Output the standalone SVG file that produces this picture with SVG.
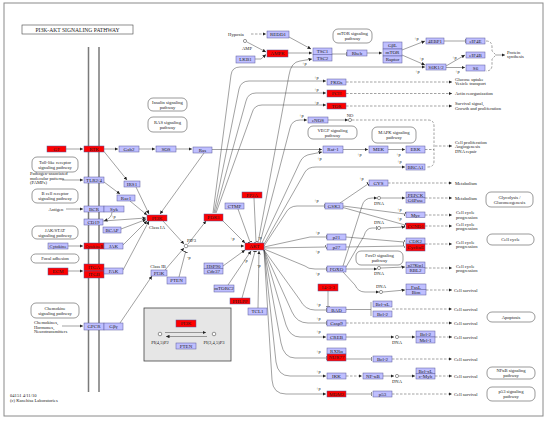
<svg xmlns="http://www.w3.org/2000/svg" width="550" height="423" viewBox="0 0 550 423">
<defs>
<style>
.n{fill:#bfbfff;stroke:#5a5a9a;stroke-width:.5}
.rn{fill:#ff0000;stroke:#5a5a9a;stroke-width:.5}
.pw{fill:#fff;stroke:#555;stroke-width:.6}
text{font-family:"Liberation Serif","DejaVu Serif",serif;fill:#222}
.l{font-size:5px;text-anchor:middle}
.t{font-size:4.6px}
.tm{font-size:4.6px;text-anchor:middle}
.p{font-size:4.3px}
.c{fill:none;stroke:#444;stroke-width:.5}
.d{fill:none;stroke:#444;stroke-width:.5;stroke-dasharray:2.5,1.5}
.ar{marker-end:url(#a)}
.br{marker-end:url(#b)}
.o{fill:#fff;stroke:#333;stroke-width:.5}
</style>
<marker id="a" viewBox="0 0 6 6" refX="6" refY="3" markerWidth="3.5" markerHeight="3.5" markerUnits="userSpaceOnUse" orient="auto"><path d="M0,0L6,3L0,6z" fill="#222"/></marker>
<marker id="b" viewBox="0 0 2 8" refX="1" refY="4" markerWidth="1" markerHeight="5" markerUnits="userSpaceOnUse" orient="auto"><path d="M1,0V8" stroke="#222" stroke-width="2"/></marker>
</defs>
<rect width="550" height="423" fill="#fff"/>
<rect x="4" y="3" width="539" height="413" fill="none" stroke="#8a8a8a" stroke-width="1"/>
<g id="title"><rect x="22" y="25" width="111" height="9" fill="#fff" stroke="#444" stroke-width=".6"/><text x="77.5" y="31.6" style="font-size:5.6px;text-anchor:middle">PI3K-AKT SIGNALING PATHWAY</text></g>
<g id="membrane" stroke="#7a7a7a" stroke-width="1.5"><path d="M88.5,47V392M99,47V392"/></g>

<g id="connectors">
<path class="d ar" d="M251,34H266"/>
<path class="c ar" d="M247,42L266,52"/>
<path class="c ar" d="M255,59H261L266,54.5"/>
<path class="c ar" d="M289,37L311,49"/>
<path class="c ar" d="M288,53H312"/>
<path class="c br" d="M332,54H346"/>
<path class="c ar" d="M367,53H382"/>
<path class="c ar" d="M402,50L425,41"/>
<path class="c ar" d="M402,55L425,65"/>
<path class="c br" d="M444,41H465"/>
<path class="c ar" d="M446,66L465,55"/>
<path class="c ar" d="M446,67.5H465"/>
<path class="d" d="M486,41Q492,41 492,47V51L496,55L492,59V65Q492,71 486,71"/>
<path class="c ar" d="M496,55H505"/>
<path class="c ar" d="M213,213L231,75Q232,67 240,67H425"/>
<path class="c ar" d="M214,213L239,89Q241,81 249,81H326"/>
<path class="c ar" d="M215,213L246,101Q248,93 256,93H326"/>
<path class="c ar" d="M216,213L252,113Q254,105 262,105H326"/>
<path class="c ar" d="M258,243L289,75Q291,62 300,61L312,59"/>
<path class="c ar" d="M260,243L290,128Q292,120 300,120H307"/>
<path class="c ar" d="M262,243L300,162Q303,155 312,154L322,152"/>
<path class="c ar" d="M264,244L305,172Q308,167 316,167H405"/>
<path class="c ar" d="M212,149.5H322"/>
<path class="c ar" d="M343,149.5H368"/>
<path class="c ar" d="M388,149.5H405"/>
<path class="c ar" d="M328,120H348"/>
<path class="d" d="M352,120H428Q434,120 434,126V161Q434,167 428,167H426M425,149.5H434"/>
<path class="d ar" d="M435,146H452"/>
<path class="d ar" d="M346,82H452"/>
<path class="d ar" d="M346,93.5H452"/>
<path class="d ar" d="M346,106H452"/>
<path class="c ar" d="M66,149H83"/>
<path class="c ar" d="M104,149H118"/>
<path class="c ar" d="M139,149H155"/>
<path class="c ar" d="M176,149H192"/>
<path class="c ar" d="M104,151.5L127,180"/>
<path class="c ar" d="M62,180H83"/>
<path class="c ar" d="M104,182L120,194"/>
<path class="c ar" d="M66,209H83"/>
<path class="c ar" d="M112,212Q112,218 104,221"/>
<path class="c ar" d="M68,246H83"/>
<path class="c ar" d="M68,271H83"/>
<path class="c ar" d="M62,326H83"/>
<path class="c ar" d="M204,153L160,214"/>
<path class="c ar" d="M136,187L149,214"/>
<path class="c ar" d="M130,201L147,215"/>
<path class="c ar" d="M103,221L146,218"/>
<path class="c ar" d="M121,229L146,219.5"/>
<path class="c ar" d="M123,245L147,221"/>
<path class="c ar" d="M123,270L149,221"/>
<path class="c ar" d="M120,323L152,276"/>
<path class="c ar" d="M163,221L184,244"/>
<path class="c ar" d="M165,270L184,248"/>
<path class="c br" d="M179,277L185.5,252"/>
<path class="c ar" d="M188,244L206,221"/>
<path class="c ar" d="M188,246H244"/>
<path class="c ar" d="M223,221L245,243"/>
<path class="c br" d="M238,209L250,242"/>
<path class="c br" d="M254,198L256,242"/>
<path class="c ar" d="M223,266L245,250"/>
<path class="c ar" d="M228,285L251,251"/>
<path class="c br" d="M242,298L255,251.5"/>
<path class="c ar" d="M258,308L259,251"/>
<path class="c br" d="M264,246L285,214Q289,206 297,206H324"/>
<path class="c br" d="M264,247L310,237H326"/>
<path class="c br" d="M264,248L326,247"/>
<path class="c br" d="M264,249L305,266Q308,269 315,269H326"/>
<path class="c br" d="M264,250L300,300Q305,310 315,310H326"/>
<path class="c br" d="M264,250L292,312Q297,323 308,323H326"/>
<path class="c ar" d="M264,250L286,325Q290,337 300,337H326"/>
<path class="c br" d="M264,250L281,343Q284,358 295,358H326"/>
<path class="c ar" d="M264,250L276,362Q278,376 290,376H326"/>
<path class="c ar" d="M264,250L272,380Q273,394 286,394H326"/>
<path class="c ar" d="M343,266L362,206Q364,198 372,198H377"/>
<path class="c br" d="M346,267L364,236Q366,228 372,228H376"/>
<path class="c ar" d="M381,198H405"/>
<path class="c ar" d="M381,228L405,227"/>
<path class="c ar" d="M346,269H377"/>
<path class="c ar" d="M381,268L405,267"/>
<path class="c ar" d="M343,272L355,285Q358,292 365,292H379"/>
<path class="c ar" d="M383,292L405,290"/>
<path class="c br" d="M340,203L368,184"/>
<path class="c br" d="M343,206L405,214"/>
<path class="c br" d="M343,207.5L405,225"/>
<path class="c br" d="M346,237L404,242"/>
<path class="c br" d="M346,247L404,246"/>
<path class="d ar" d="M388,183H452"/>
<path class="d ar" d="M425,198H452"/>
<path class="d ar" d="M425,215H452"/>
<path class="d ar" d="M425,226H452"/>
<path class="d ar" d="M425,244H452"/>
<path class="d ar" d="M425,268H452"/>
<path class="c br" d="M328,291V306"/>
<path class="c" d="M346,309.5H371M371,302V316"/>
<path class="d ar" d="M392,309H452"/>
<path class="d ar" d="M346,323H452"/>
<path class="c ar" d="M346,337H394"/>
<path class="c ar" d="M399,337H415"/>
<path class="d ar" d="M435,337H452"/>
<path class="c br" d="M346,359H371"/>
<path class="d ar" d="M392,359H452"/>
<path class="d ar" d="M346,376H362"/>
<path class="c ar" d="M383,376H394"/>
<path class="c ar" d="M399,376H415"/>
<path class="d ar" d="M435,376H452"/>
<path class="c br" d="M346,394H371"/>
<path class="d ar" d="M392,394H452"/>
<path class="d ar" d="M426,290H452"/>
</g>

<g id="legend"><rect x="144" y="308" width="87" height="53" fill="#e6e6e6" stroke="#444" stroke-width=".8"/>
<path class="c ar" d="M165,332.5H206"/><path class="c ar" d="M207,336.5H166"/>
<circle class="o" cx="160" cy="334" r="1.8"/><circle class="o" cx="214" cy="334" r="1.8"/>
<text class="tm" x="160" y="344">PI(4,5)P2</text><text class="tm" x="214" y="344">PI(3,4,5)P3</text>
<g id="lg-PI3K"><rect class="rn" x="176" y="320" width="20" height="7"/><text class="l" x="186" y="325.2">PI3K</text></g>
<g id="lg-PTEN"><rect class="n" x="176" y="343" width="20" height="6"/><text class="l" x="186" y="347.8">PTEN</text></g>
</g>

<g id="circles">
<circle class="o" cx="245" cy="41" r="1.6"/>
<circle class="o" cx="350" cy="120" r="1.6"/>
<circle class="o" cx="186" cy="246" r="1.8"/>
<circle class="o" cx="379" cy="198" r="1.6"/>
<circle class="o" cx="379" cy="228" r="1.6"/>
<circle class="o" cx="379" cy="268" r="1.6"/>
<circle class="o" cx="381" cy="292" r="1.6"/>
<circle class="o" cx="397" cy="337" r="1.6"/>
<circle class="o" cx="397" cy="376" r="1.6"/>
</g>

<g id="nodes">
<g id="REDD1"><rect class="n" x="267" y="31" width="22" height="7"/><text class="l" x="278" y="36.2">REDD1</text></g>
<g id="AMPK"><rect class="rn" x="267" y="50" width="21" height="7"/><text class="l" x="277.5" y="55.2">AMPK</text></g>
<g id="LKB1"><rect class="n" x="236" y="56" width="19" height="7"/><text class="l" x="245.5" y="61.2">LKB1</text></g>
<g id="TSC1"><rect class="n" x="313" y="48" width="19" height="6.5"/><text class="l" x="322.5" y="53">TSC1</text></g>
<g id="TSC2"><rect class="n" x="313" y="54.5" width="19" height="6.5"/><text class="l" x="322.5" y="59.5">TSC2</text></g>
<g id="Rheb"><rect class="n" x="347" y="50" width="20" height="6"/><text class="l" x="357" y="54.8">Rheb</text></g>
<g id="GbL"><rect class="n" x="383" y="42" width="19" height="7"/><text class="l" x="392.5" y="47.2">GβL</text></g>
<g id="mTOR"><rect class="n" x="383" y="49" width="19" height="7"/><text class="l" x="392.5" y="54.2">mTOR</text></g>
<g id="Raptor"><rect class="n" x="383" y="56" width="19" height="7"/><text class="l" x="392.5" y="61.2">Raptor</text></g>
<g id="4EBP1"><rect class="n" x="426" y="38" width="18" height="6"/><text class="l" x="435" y="42.8">4EBP1</text></g>
<g id="eIF4E"><rect class="n" x="466" y="38" width="19" height="6"/><text class="l" x="475.5" y="42.8">eIF4E</text></g>
<g id="eIF4B"><rect class="n" x="466" y="52" width="19" height="6"/><text class="l" x="475.5" y="56.8">eIF4B</text></g>
<g id="S6"><rect class="n" x="466" y="65" width="19" height="6"/><text class="l" x="475.5" y="69.8">S6</text></g>
<g id="S6K"><rect class="n" x="426" y="64" width="20" height="6"/><text class="l" x="436" y="68.8">S6K1/2</text></g>
<g id="FKOs"><rect class="n" x="327" y="79" width="19" height="6"/><text class="l" x="336.5" y="83.8">FKOs</text></g>
<g id="PCH"><rect class="rn" x="327" y="90" width="19" height="7"/><text class="l" x="336.5" y="95.2">PCH</text></g>
<g id="TOR"><rect class="rn" x="327" y="103" width="19" height="6"/><text class="l" x="336.5" y="107.8">TOR</text></g>
<g id="eNOS"><rect class="n" x="308" y="117" width="20" height="6"/><text class="l" x="318" y="121.8">eNOS</text></g>
<g id="Raf1"><rect class="n" x="323" y="146" width="20" height="7"/><text class="l" x="333" y="151.2">Raf-1</text></g>
<g id="MEK"><rect class="n" x="369" y="146" width="19" height="7"/><text class="l" x="378.5" y="151.2">MEK</text></g>
<g id="ERK"><rect class="n" x="406" y="146" width="19" height="7"/><text class="l" x="415.5" y="151.2">ERK</text></g>
<g id="BRCA1"><rect class="n" x="406" y="164" width="19" height="6"/><text class="l" x="415.5" y="168.8">BRCA1</text></g>
<g id="GF"><rect class="rn" x="47" y="146" width="19" height="6"/><text class="l" x="56.5" y="150.8">GF</text></g>
<g id="RTK"><rect class="rn" x="84" y="146" width="20" height="6"/><text class="l" x="94" y="150.8">RTK</text></g>
<g id="Gab2"><rect class="n" x="119" y="146" width="20" height="6"/><text class="l" x="129" y="150.8">Gab2</text></g>
<g id="SOS"><rect class="n" x="156" y="146" width="20" height="6"/><text class="l" x="166" y="150.8">SOS</text></g>
<g id="Ras"><rect class="n" x="193" y="147" width="19" height="6"/><text class="l" x="202.5" y="151.8">Ras</text></g>
<g id="TLR"><rect class="n" x="84" y="177" width="20" height="6"/><text class="l" x="94" y="181.8">TLR2/4</text></g>
<g id="IRS1"><rect class="n" x="124" y="181" width="16" height="6"/><text class="l" x="132" y="185.8">IRS1</text></g>
<g id="Rac1"><rect class="n" x="117" y="195" width="18" height="6"/><text class="l" x="126" y="199.8">Rac1</text></g>
<g id="BCR"><rect class="n" x="84" y="206" width="20" height="6"/><text class="l" x="94" y="210.8">BCR</text></g>
<g id="Syk"><rect class="n" x="104" y="206" width="20" height="6"/><text class="l" x="114" y="210.8">Syk</text></g>
<g id="CD19"><rect class="n" x="84" y="219" width="19" height="6"/><text class="l" x="93.5" y="223.8">CD19</text></g>
<g id="BCAP"><rect class="n" x="103" y="227" width="18" height="6"/><text class="l" x="112" y="231.8">BCAP</text></g>
<g id="Cytokine"><rect class="n" x="48" y="243" width="20" height="6"/><text class="l" x="58" y="247.8" style="font-size:4.6px">Cytokine</text></g>
<g id="CytokineR"><rect class="rn" x="84" y="243" width="20" height="6"/><text class="l" x="94" y="247.8" style="font-size:4.1px">CytokineR</text></g>
<g id="JAK"><rect class="n" x="104" y="243" width="19" height="6"/><text class="l" x="113.5" y="247.8">JAK</text></g>
<g id="ECM"><rect class="rn" x="48" y="268" width="20" height="7"/><text class="l" x="58" y="273.2">ECM</text></g>
<g id="ITGA"><rect class="rn" x="84" y="264" width="20" height="7"/><text class="l" x="94" y="269.2">ITGA</text></g>
<g id="ITGB"><rect class="rn" x="84" y="271" width="20" height="7"/><text class="l" x="94" y="276.2">ITGB</text></g>
<g id="FAK"><rect class="n" x="104" y="268" width="19" height="6"/><text class="l" x="113.5" y="272.8">FAK</text></g>
<g id="GPCR"><rect class="n" x="84" y="323" width="20" height="7"/><text class="l" x="94" y="328.2">GPCR</text></g>
<g id="Gbg"><rect class="n" x="104" y="323" width="19" height="7"/><text class="l" x="113.5" y="328.2">Gβγ</text></g>
<g id="PI3K-IA"><rect class="rn" x="147" y="215" width="20" height="6"/><text class="l" x="157" y="219.8">PI3K</text></g>
<g id="PI3K-IB"><rect class="n" x="151" y="270" width="16" height="6"/><text class="l" x="159" y="274.8">PI3K</text></g>
<g id="PTEN"><rect class="n" x="167" y="277" width="19" height="7"/><text class="l" x="176.5" y="282.2">PTEN</text></g>
<g id="PDK1"><rect class="rn" x="204" y="214" width="19" height="7"/><text class="l" x="213.5" y="219.2">PDK1</text></g>
<g id="PP2A"><rect class="rn" x="242" y="192" width="20" height="6"/><text class="l" x="252" y="196.8">PP2A</text></g>
<g id="CTMP"><rect class="n" x="225" y="203" width="19" height="6"/><text class="l" x="234.5" y="207.8">CTMP</text></g>
<g id="AKT"><rect class="rn" x="245" y="243" width="19" height="7"/><text class="l" x="254.5" y="248.2">AKT</text></g>
<g id="HSP90"><rect class="n" x="204" y="263" width="19" height="5.5"/><text class="l" x="213.5" y="267.5">HSP90</text></g>
<g id="Cdc37"><rect class="n" x="204" y="268.5" width="19" height="5.5"/><text class="l" x="213.5" y="273">Cdc37</text></g>
<g id="mTORC2"><rect class="n" x="214" y="285" width="20" height="7"/><text class="l" x="224" y="290.2">mTORC2</text></g>
<g id="PHLPP"><rect class="rn" x="230" y="298" width="20" height="6"/><text class="l" x="240" y="302.8">PHLPP</text></g>
<g id="TCL1"><rect class="n" x="248" y="308" width="19" height="7"/><text class="l" x="257.5" y="313.2">TCL1</text></g>
<g id="GYS"><rect class="n" x="369" y="180" width="19" height="6"/><text class="l" x="378.5" y="184.8">GYS</text></g>
<g id="GSK3"><rect class="n" x="325" y="203" width="18" height="6"/><text class="l" x="334" y="207.8">GSK3</text></g>
<g id="PEPCK"><rect class="n" x="406" y="192" width="19" height="5.5"/><text class="l" x="415.5" y="196.5">PEPCK</text></g>
<g id="G6Pase"><rect class="n" x="406" y="197.5" width="19" height="5.5"/><text class="l" x="415.5" y="202">G6Pase</text></g>
<g id="Myc"><rect class="n" x="406" y="212" width="19" height="5.5"/><text class="l" x="415.5" y="216.5">Myc</text></g>
<g id="CCND1"><rect class="rn" x="406" y="223" width="19" height="6"/><text class="l" x="415.5" y="227.8">CCND1</text></g>
<g id="p21"><rect class="n" x="327" y="234" width="19" height="6"/><text class="l" x="336.5" y="238.8">p21</text></g>
<g id="p27"><rect class="n" x="327" y="244" width="19" height="6"/><text class="l" x="336.5" y="248.8">p27</text></g>
<g id="CDK2"><rect class="n" x="406" y="238" width="19" height="6"/><text class="l" x="415.5" y="242.8">CDK2</text></g>
<g id="CyclinE"><rect class="rn" x="406" y="244" width="19" height="7"/><text class="l" x="415.5" y="249.2">CyclinE</text></g>
<g id="FOXO"><rect class="n" x="327" y="266" width="19" height="6"/><text class="l" x="336.5" y="270.8">FOXO</text></g>
<g id="p27Kip1"><rect class="n" x="406" y="262" width="19" height="5.5"/><text class="l" x="415.5" y="266.5" style="font-size:4.5px">p27Kip1</text></g>
<g id="RBL2"><rect class="n" x="406" y="267.5" width="19" height="6"/><text class="l" x="415.5" y="272.3">RBL2</text></g>
<g id="14-3-3"><rect class="rn" x="318" y="284" width="20" height="7"/><text class="l" x="328" y="289.2">14-3-3</text></g>
<g id="FasL"><rect class="n" x="406" y="284" width="20" height="5.5"/><text class="l" x="416" y="288.5">FasL</text></g>
<g id="Bim"><rect class="n" x="406" y="289.5" width="20" height="5.5"/><text class="l" x="416" y="294">Bim</text></g>
<g id="BAD"><rect class="n" x="327" y="307" width="19" height="5.5"/><text class="l" x="336.5" y="311.5">BAD</text></g>
<g id="Bcl-xL"><rect class="n" x="373" y="301" width="19" height="6"/><text class="l" x="382.5" y="305.8">Bcl-xL</text></g>
<g id="Bcl-2a"><rect class="n" x="373" y="311" width="19" height="6"/><text class="l" x="382.5" y="315.8">Bcl-2</text></g>
<g id="Casp9"><rect class="n" x="327" y="320" width="19" height="6"/><text class="l" x="336.5" y="324.8">Casp9</text></g>
<g id="CREB"><rect class="n" x="327" y="334" width="19" height="6"/><text class="l" x="336.5" y="338.8">CREB</text></g>
<g id="Bcl-2b"><rect class="n" x="416" y="331" width="19" height="6"/><text class="l" x="425.5" y="335.8">Bcl-2</text></g>
<g id="Mcl-1"><rect class="n" x="416" y="337" width="19" height="6"/><text class="l" x="425.5" y="341.8">Mcl-1</text></g>
<g id="RXRa"><rect class="n" x="327" y="348" width="19" height="6"/><text class="l" x="336.5" y="352.8">RXRα</text></g>
<g id="NUR77"><rect class="rn" x="327" y="354" width="19" height="7"/><text class="l" x="336.5" y="359.2">NUR77</text></g>
<g id="Bcl-2c"><rect class="n" x="373" y="356" width="19" height="6"/><text class="l" x="382.5" y="360.8">Bcl-2</text></g>
<g id="IKK"><rect class="n" x="327" y="373" width="19" height="6"/><text class="l" x="336.5" y="377.8">IKK</text></g>
<g id="NFkB"><rect class="n" x="363" y="373" width="20" height="6"/><text class="l" x="373" y="377.8">NF-κB</text></g>
<g id="Bcl-xLb"><rect class="n" x="416" y="368" width="19" height="5.5"/><text class="l" x="425.5" y="372.5">Bcl-xL</text></g>
<g id="c-Myb"><rect class="n" x="416" y="373.5" width="19" height="5.5"/><text class="l" x="425.5" y="378">c-Myb</text></g>
<g id="MDM2"><rect class="rn" x="327" y="391" width="19" height="6"/><text class="l" x="336.5" y="395.8">MDM2</text></g>
<g id="p53"><rect class="n" x="373" y="391" width="19" height="6"/><text class="l" x="382.5" y="395.8">p53</text></g>
</g>

<g id="pathways">
<g id="pw-mtor"><rect class="pw" x="333" y="29" width="39" height="14" rx="5"/><text class="tm" x="352.5" y="35">mTOR signaling</text><text class="tm" x="352.5" y="40">pathway</text></g>
<g id="pw-ins"><rect class="pw" x="148" y="98" width="39" height="13" rx="5"/><text class="tm" x="167.5" y="103.5">Insulin signaling</text><text class="tm" x="167.5" y="108.5">pathway</text></g>
<g id="pw-ras"><rect class="pw" x="148" y="117" width="39" height="15" rx="5"/><text class="tm" x="167.5" y="123.5">RAS signaling</text><text class="tm" x="167.5" y="128.5">pathway</text></g>
<g id="pw-vegf"><rect class="pw" x="308" y="126" width="49" height="13" rx="5"/><text class="tm" x="332.5" y="131.5">VEGF signaling</text><text class="tm" x="332.5" y="136.5">pathway</text></g>
<g id="pw-mapk"><rect class="pw" x="372" y="127" width="44" height="16" rx="5"/><text class="tm" x="394" y="134">MAPK signaling</text><text class="tm" x="394" y="139">pathway</text></g>
<g id="pw-tlr"><rect class="pw" x="32" y="157" width="46" height="15" rx="5"/><text class="tm" x="55" y="163.5">Toll-like receptor</text><text class="tm" x="55" y="168.5">signaling pathway</text></g>
<g id="pw-bcr"><rect class="pw" x="32" y="189" width="46" height="14" rx="5"/><text class="tm" x="55" y="195">B cell receptor</text><text class="tm" x="55" y="200">signaling pathway</text></g>
<g id="pw-jak"><rect class="pw" x="32" y="226" width="46" height="13" rx="5"/><text class="tm" x="55" y="231.5">JAK/STAT</text><text class="tm" x="55" y="236.5">signaling pathway</text></g>
<g id="pw-fa"><rect class="pw" x="31" y="254" width="48" height="9" rx="4.5"/><text class="tm" x="55" y="260">Focal adhesion</text></g>
<g id="pw-chemo"><rect class="pw" x="31" y="303" width="48" height="15" rx="5"/><text class="tm" x="55" y="309.5">Chemokine</text><text class="tm" x="55" y="314.5">signaling pathway</text></g>
<g id="pw-foxo"><rect class="pw" x="356" y="251" width="47" height="14" rx="5"/><text class="tm" x="379.5" y="257">FoxO signaling</text><text class="tm" x="379.5" y="262">pathway</text></g>
<g id="pw-glyc"><rect class="pw" x="486" y="192" width="47" height="15" rx="5"/><text class="tm" x="509.5" y="198.5">Glycolysis /</text><text class="tm" x="509.5" y="203.5">Gluconeogenesis</text></g>
<g id="pw-cc"><rect class="pw" x="487" y="234" width="47" height="11" rx="5"/><text class="tm" x="510.5" y="241">Cell cycle</text></g>
<g id="pw-apo"><rect class="pw" x="487" y="312" width="48" height="10" rx="5"/><text class="tm" x="511" y="318.5">Apoptosis</text></g>
<g id="pw-nfkb"><rect class="pw" x="487" y="367" width="48" height="12" rx="5"/><text class="tm" x="511" y="372.3">NFκB signaling</text><text class="tm" x="511" y="377">pathway</text></g>
<g id="pw-p53"><rect class="pw" x="487" y="387" width="48" height="14" rx="5"/><text class="tm" x="511" y="393">p53 signaling</text><text class="tm" x="511" y="398">pathway</text></g>
</g>

<g id="labels">
<text class="tm" x="236" y="35.5">Hypoxia</text>
<text class="tm" x="247" y="49.5">AMP</text>
<text class="tm" x="350" y="116.5">NO</text>
<text class="t" x="507" y="53.5">Protein</text><text class="t" x="507" y="58">synthesis</text>
<text class="t" x="455" y="80.5">Glucose uptake</text><text class="t" x="455" y="85">Vesicle transport</text>
<text class="t" x="455" y="95">Actin reorganization</text>
<text class="t" x="455" y="105">Survival signal,</text><text class="t" x="455" y="109.5">Growth and proliferation</text>
<text class="t" x="455" y="143.5">Cell proliferation</text><text class="t" x="455" y="148">Angiogenesis</text><text class="t" x="455" y="152.5">DNA repair</text>
<text class="t" x="455" y="184.5">Metabolism</text>
<text class="t" x="455" y="199.5">Metabolism</text>
<text class="t" x="456" y="214">Cell cycle</text><text class="t" x="456" y="218.5">progression</text>
<text class="t" x="456" y="225.5">Cell cycle</text><text class="t" x="456" y="230">progression</text>
<text class="t" x="456" y="243.5">Cell cycle</text><text class="t" x="456" y="248">progression</text>
<text class="t" x="456" y="267.5">Cell cycle</text><text class="t" x="456" y="272">progression</text>
<text class="t" x="454" y="291.5">Cell survival</text>
<text class="t" x="454" y="310.5">Cell survival</text>
<text class="t" x="454" y="324.5">Cell survival</text>
<text class="t" x="454" y="338.5">Cell survival</text>
<text class="t" x="454" y="360.5">Cell survival</text>
<text class="t" x="454" y="377.5">Cell survival</text>
<text class="t" x="454" y="395.5">Cell survival</text>
<text class="t" x="30" y="175">Pathogen-associated</text><text class="t" x="30" y="179.5">molecular patterns</text><text class="t" x="30" y="184">(PAMPs)</text>
<text class="tm" x="56" y="210.5">Antigen</text>
<text class="tm" x="157" y="228.5">Class IA</text>
<text class="tm" x="158" y="267.5">Class IB</text>
<text class="t" x="187" y="241.5">PIP3</text>
<text class="t" x="34" y="324">Chemokines,</text><text class="t" x="34" y="328.5">Hormones,</text><text class="t" x="34" y="333">Neurotransmitters</text>
<text class="t" x="10" y="397">04151 4/11/10</text>
<text class="t" x="10" y="402">(c) Kanehisa Laboratories</text>
<text class="tm" x="379" y="205">DNA</text>
<text class="tm" x="379" y="224">DNA</text>
<text class="tm" x="379" y="275">DNA</text>
<text class="tm" x="381" y="288">DNA</text>
<text class="tm" x="397" y="344">DNA</text>
<text class="tm" x="397" y="382.5">DNA</text>
</g>
<g id="phospho">
<text class="p" x="302" y="64.5">+p</text>
<text class="p" x="299" y="117">+p</text>
<text class="p" x="314" y="79">+p</text>
<text class="p" x="314" y="91">+p</text>
<text class="p" x="314" y="103.5">+p</text>
<text class="p" x="414" y="39.5">+p</text>
<text class="p" x="419" y="60">+p</text>
<text class="p" x="415" y="73">+p</text>
<text class="p" x="452" y="58.5">+p</text>
<text class="p" x="455" y="73">+p</text>
<text class="p" x="317" y="160">+p</text>
<text class="p" x="357" y="155.5">+p</text>
<text class="p" x="396" y="155.5">+p</text>
<text class="p" x="397" y="163">+p</text>
<text class="p" x="111" y="218">+p</text>
<text class="p" x="230" y="239.5">+p</text>
<text class="p" x="258" y="238.5">-p</text>
<text class="p" x="187" y="259">-p</text>
<text class="p" x="243" y="262">+p</text>
<text class="p" x="257" y="267">-p</text>
<text class="p" x="314" y="202">+p</text>
<text class="p" x="359" y="180">+p</text>
<text class="p" x="397" y="211">+p</text>
<text class="p" x="397" y="220">+p</text>
<text class="p" x="315" y="234">+p</text>
<text class="p" x="315" y="252.5">+p</text>
<text class="p" x="315" y="275">+p</text>
<text class="p" x="316" y="306">+p</text>
<text class="p" x="316" y="320">+p</text>
<text class="p" x="316" y="333">+p</text>
<text class="p" x="316" y="353">+p</text>
<text class="p" x="316" y="373">+p</text>
<text class="p" x="316" y="390">+p</text>
</g>
</svg>
